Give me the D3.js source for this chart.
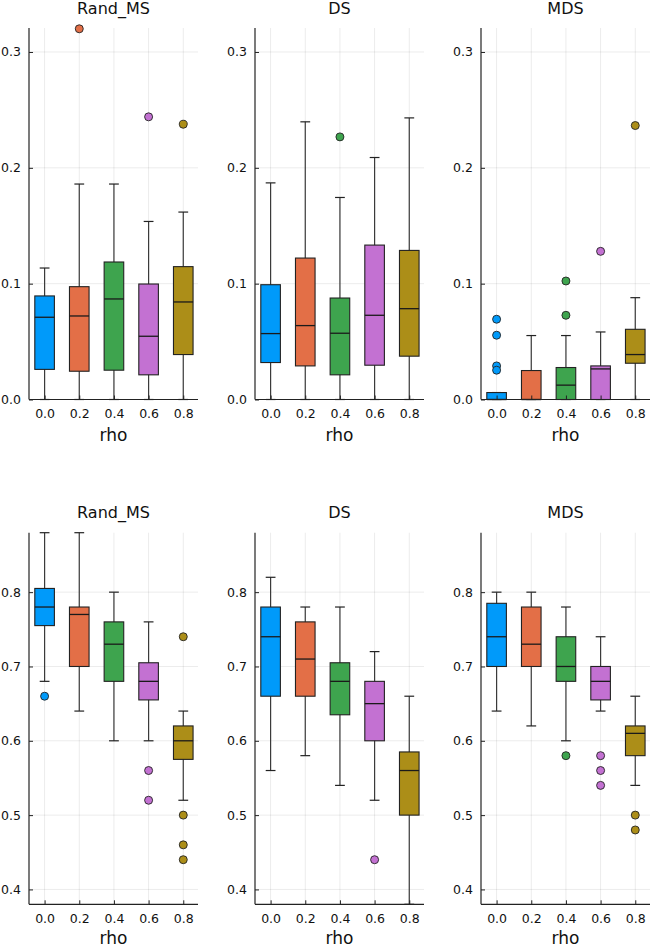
<!DOCTYPE html>
<html>
<head>
<meta charset="utf-8">
<script src="https://cdn.jsdelivr.net/npm/d3@7"></script>
<style>
  body { margin: 0; background: #fff; }
  svg { font-family: "DejaVu Sans", sans-serif; }
</style>
</head>
<body>
<svg id="chart" width="650" height="946"></svg>
<script>
// rho categories on the x axis
const rhos = [0.0, 0.2, 0.4, 0.6, 0.8]
const rhoLabels = ["0.0", "0.2", "0.4", "0.6", "0.8"]
const titles = ["Rand_MS", "DS", "MDS"]
const palette = ["#009AFA", "#E36F47", "#3EA44E", "#C371D2", "#AC8E18"]

const topTicks = [0.0, 0.1, 0.2, 0.3]
const bottomTicks = [0.4, 0.5, 0.6, 0.7, 0.8]

// box stats per rho: [lower whisker, q1, median, q3, upper whisker]
const topRandMS = [[0, 0.026, 0.071, 0.0894, 0.1135], [0, 0.0244, 0.0721, 0.0974, 0.186], [0, 0.0253, 0.0868, 0.1187, 0.186], [0, 0.0213, 0.0546, 0.0997, 0.1537], [0, 0.0388, 0.0842, 0.1147, 0.1618]]
const topRandMSOut = [[], [0.320], [], [0.244], [0.2376]]
const topDS = [[0, 0.0319, 0.0569, 0.0991, 0.187], [0, 0.029, 0.0638, 0.1221, 0.2397], [0, 0.0213, 0.0572, 0.0876, 0.1744], [0, 0.0296, 0.0727, 0.1333, 0.2089], [0, 0.0374, 0.0784, 0.1287, 0.2431]]
const topDSOut = [[], [], [0.2267], [], []]
const topMDS = [[0, 0, 0, 0.006, 0.006], [0, 0, 0, 0.025, 0.0552], [0, 0, 0.0124, 0.0276, 0.0552], [0, 0, 0.0264, 0.029, 0.0583], [0, 0.0313, 0.0388, 0.0606, 0.0879]]
const topMDSOut = [[0.0693, 0.0555, 0.029, 0.0253], [], [0.1023, 0.0727], [0.1279], [0.2365]]

const botRandMS = [[0.68, 0.755, 0.78, 0.805, 0.88], [0.64, 0.70, 0.77, 0.78, 0.88], [0.60, 0.68, 0.73, 0.76, 0.80], [0.60, 0.655, 0.68, 0.705, 0.76], [0.52, 0.575, 0.60, 0.62, 0.64]]
const botRandMSOut = [[0.66], [], [], [0.56, 0.52], [0.74, 0.50, 0.46, 0.44]]
const botDS = [[0.56, 0.66, 0.74, 0.78, 0.82], [0.58, 0.66, 0.71, 0.76, 0.78], [0.54, 0.635, 0.68, 0.705, 0.78], [0.52, 0.60, 0.65, 0.68, 0.72], [0.38, 0.50, 0.56, 0.585, 0.66]]
const botDSOut = [[], [], [], [0.44], []]
const botMDS = [[0.64, 0.70, 0.74, 0.785, 0.80], [0.62, 0.70, 0.73, 0.78, 0.80], [0.60, 0.68, 0.70, 0.74, 0.78], [0.64, 0.655, 0.68, 0.70, 0.74], [0.54, 0.58, 0.61, 0.62, 0.66]]
const botMDSOut = [[], [], [0.58], [0.58, 0.56, 0.54], [0.50, 0.48]]

const svg = d3.select('#chart')
const panelLefts = [29, 255, 481]
const plotW = 169
const rows = [
  { top: 28, bottom: 399.5, domain: [0, 0.3207], ticks: topTicks, titleY: 14, labelY: 440.5, stats: [topRandMS, topDS, topMDS], outs: [topRandMSOut, topDSOut, topMDSOut] },
  { top: 532.7, bottom: 904.3, domain: [0.38, 0.88], ticks: bottomTicks, titleY: 518, labelY: 943.5, stats: [botRandMS, botDS, botMDS], outs: [botRandMSOut, botDSOut, botMDSOut] }
]

rows.forEach(row => {
  panelLefts.forEach((left, p) => {
    const x = d3.scaleLinear().domain([-0.09, 0.885]).range([left, left + plotW])
    const y = d3.scaleLinear().domain(row.domain).range([row.bottom, row.top])
    const g = svg.append('g')
    const boxW = x(0.113) - x(0)

    // grid
    g.append('g').selectAll('line').data(rhos).join('line')
      .attr('x1', d => x(d)).attr('x2', d => x(d))
      .attr('y1', row.top).attr('y2', row.bottom)
      .attr('stroke', '#000').attr('stroke-opacity', 0.1).attr('stroke-width', 0.8)
    g.append('g').selectAll('line').data(row.ticks).join('line')
      .attr('x1', left).attr('x2', left + plotW)
      .attr('y1', d => y(d)).attr('y2', d => y(d))
      .attr('stroke', '#000').attr('stroke-opacity', 0.1).attr('stroke-width', 0.8)

    // boxes
    const stats = row.stats[p]
    const boxes = g.append('g').selectAll('g').data(stats).join('g')
    boxes.append('line')
      .attr('x1', (d, i) => x(rhos[i])).attr('x2', (d, i) => x(rhos[i]))
      .attr('y1', d => y(d[0])).attr('y2', d => y(d[4]))
      .attr('stroke', '#3b3b3b').attr('stroke-width', 1.2)
    boxes.selectAll('.cap').data((d, i) => [[d[0], i], [d[4], i]]).join('line')
      .attr('x1', d => x(rhos[d[1]]) - boxW / 4).attr('x2', d => x(rhos[d[1]]) + boxW / 4)
      .attr('y1', d => y(d[0])).attr('y2', d => y(d[0]))
      .attr('stroke', '#222').attr('stroke-width', 1.2)
    boxes.append('rect')
      .attr('x', (d, i) => x(rhos[i]) - boxW / 2).attr('width', boxW)
      .attr('y', d => y(d[3])).attr('height', d => y(d[1]) - y(d[3]))
      .attr('fill', (d, i) => palette[i])
      .attr('stroke', '#222').attr('stroke-width', 1.1)
    boxes.append('line')
      .attr('x1', (d, i) => x(rhos[i]) - boxW / 2).attr('x2', (d, i) => x(rhos[i]) + boxW / 2)
      .attr('y1', d => y(d[2])).attr('y2', d => y(d[2]))
      .attr('stroke', '#1a1a1a').attr('stroke-width', 1.3)

    // outliers
    const outs = row.outs[p].flatMap((vals, i) => vals.map(v => ({ i, v })))
    g.append('g').selectAll('circle').data(outs).join('circle')
      .attr('cx', d => x(rhos[d.i])).attr('cy', d => y(d.v)).attr('r', 4)
      .attr('fill', d => palette[d.i]).attr('stroke', '#222').attr('stroke-width', 0.9)

    // axes
    const yAxis = g.append('g').attr('transform', `translate(${left},0)`)
      .call(d3.axisLeft(y).tickValues(row.ticks).tickFormat(d3.format('.1f')).tickSizeInner(-4).tickSizeOuter(0).tickPadding(8))
    const xAxis = g.append('g').attr('transform', `translate(0,${row.bottom})`)
      .call(d3.axisBottom(x).tickValues(rhos).tickFormat((d, i) => rhoLabels[i]).tickSizeInner(-4).tickSizeOuter(0).tickPadding(10))
    ;[yAxis, xAxis].forEach(a => {
      a.select('.domain').attr('stroke', '#222').attr('stroke-width', 1.2)
      a.selectAll('.tick line').attr('stroke', '#222')
      a.selectAll('.tick text').attr('font-size', 12.5).attr('fill', '#111').attr('font-family', 'DejaVu Sans')
    })
    yAxis.select('.domain').attr('d', `M0,${row.bottom}V${row.top}`)
    xAxis.select('.domain').attr('d', `M${left},0H${left + plotW}`)

    // titles
    g.append('text').attr('x', left + plotW / 2).attr('y', row.titleY)
      .attr('text-anchor', 'middle').attr('font-size', 16).attr('fill', '#111').text(titles[p])
    g.append('text').attr('x', left + plotW / 2).attr('y', row.labelY)
      .attr('text-anchor', 'middle').attr('font-size', 17).attr('fill', '#111').text('rho')
  })
})
</script>
</body>
</html>
